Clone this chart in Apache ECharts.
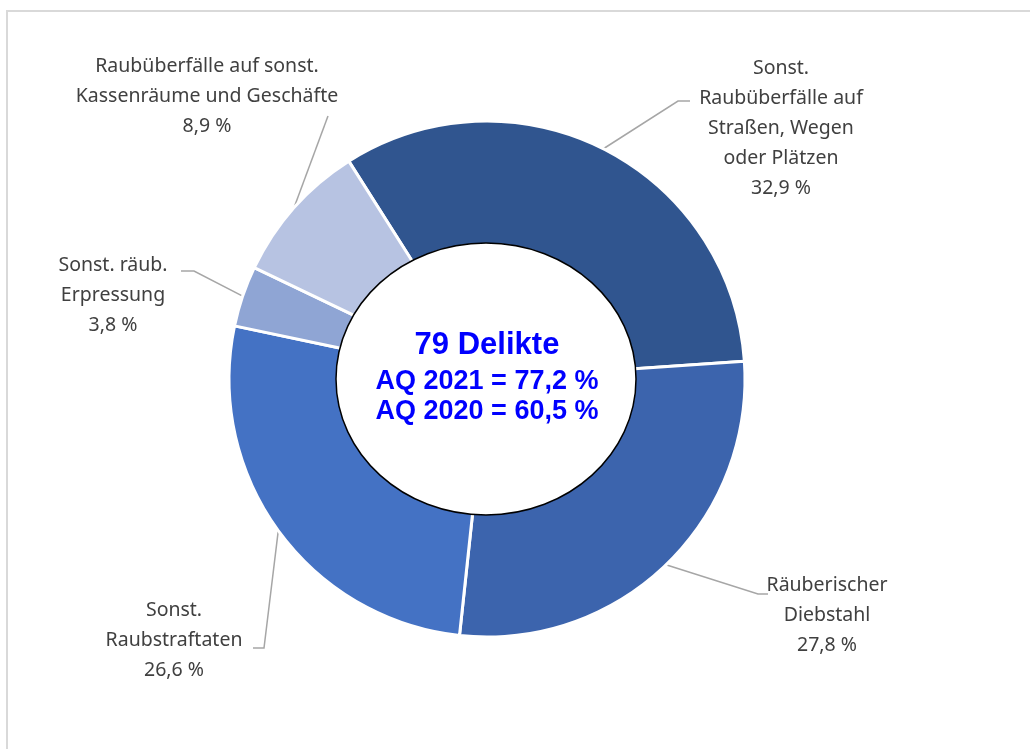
<!DOCTYPE html>
<html>
<head>
<meta charset="utf-8">
<script src="https://cdn.jsdelivr.net/npm/echarts@6/dist/echarts.min.js"></script>
<style>
  html, body { margin: 0; padding: 0; background: #fff; }
  #chart { width: 1030px; height: 749px; }
</style>
</head>
<body>
<div id="chart"></div>
<script>
// Kategorien (im Uhrzeigersinn, oben beginnend)
var categories = [
  'Sonst.\nRaubüberfälle auf\nStraßen, Wegen\noder Plätzen',
  'Räuberischer\nDiebstahl',
  'Sonst.\nRaubstraftaten',
  'Sonst. räub.\nErpressung',
  'Raubüberfälle auf sonst.\nKassenräume und Geschäfte'
];
// Anteile in %
var shares = [32.9, 27.8, 26.6, 3.8, 8.9];
// Text in der Mitte
var centerLines = ['79 Delikte', 'AQ 2021 = 77,2 %', 'AQ 2020 = 60,5 %'];

var colors = ['#30558f', '#3c64ad', '#4472c4', '#8fa5d4', '#b7c3e2'];

// Position der Beschriftungen: Textmitte, Knick und Ende der Führungslinie
var labelPos = [
  { x: 781, y: 128, elbow: [678, 101], end: [690, 101] },
  { x: 827, y: 615, elbow: [758, 594], end: [768, 594] },
  { x: 174, y: 640, elbow: [264, 648], end: [253, 648] },
  { x: 113, y: 295, elbow: [194, 271], end: [181, 271] },
  { x: 207, y: 96, elbow: [328, 116], end: [328, 116] }
];

var data = categories.map(function (name, i) {
  return { name: name, value: shares[i], itemStyle: { color: colors[i] } };
});

var myChart = echarts.init(document.getElementById('chart'));
var option = {
  backgroundColor: '#fff',
  animation: false,
  graphic: [
    {
      type: 'polyline',
      shape: { points: [[7, 749], [7, 11], [1030, 11]] },
      style: { stroke: '#d9d9d9', lineWidth: 2, fill: null },
      z: 0
    },
    {
      type: 'ellipse',
      shape: { cx: 486, cy: 379, rx: 150, ry: 136 },
      style: { fill: '#fff', stroke: '#000', lineWidth: 1.5 },
      z: 10
    },
    {
      type: 'text',
      x: 487,
      y: 330,
      style: {
        text: centerLines[0],
        fill: '#0000ff',
        font: 'bold 31px "Liberation Sans", Arial, sans-serif',
        align: 'center'
      },
      z: 11
    },
    {
      type: 'text',
      x: 487,
      y: 367,
      style: {
        text: centerLines[1] + '\n' + centerLines[2],
        fill: '#0000ff',
        font: 'bold 27px "Liberation Sans", Arial, sans-serif',
        lineHeight: 30,
        align: 'center'
      },
      z: 11
    }
  ],
  series: [
    {
      type: 'pie',
      center: [487, 379],
      radius: [130, 258],
      startAngle: 122.4,
      clockwise: true,
      avoidLabelOverlap: false,
      itemStyle: { borderColor: '#fff', borderWidth: 3 },
      label: {
        show: true,
        position: 'outside',
        formatter: function (p) {
          return p.name + '\n' + p.value.toFixed(1).replace('.', ',') + ' %';
        },
        color: '#404040',
        fontFamily: '"Noto Sans", "Open Sans", sans-serif',
        fontSize: 19.5,
        lineHeight: 30
      },
      labelLine: {
        show: true,
        lineStyle: { color: '#a6a6a6', width: 1.5 }
      },
      labelLayout: function (params) {
        var p = labelPos[params.dataIndex];
        var start = params.labelLinePoints ? params.labelLinePoints[0] : p.elbow;
        return {
          x: p.x,
          y: p.y,
          align: 'center',
          verticalAlign: 'middle',
          labelLinePoints: [start, p.elbow, p.end]
        };
      },
      emphasis: { disabled: true },
      data: data
    }
  ]
};
myChart.setOption(option);
window.addEventListener('resize', function () {
  myChart.resize();
});
</script>
</body>
</html>
